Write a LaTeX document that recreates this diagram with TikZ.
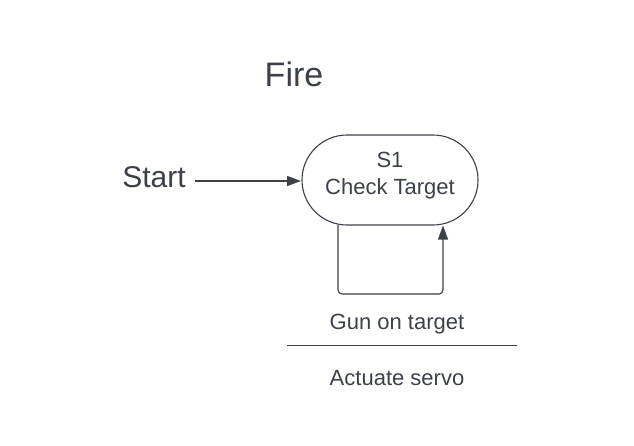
\documentclass[tikz,border=0pt]{standalone}
\usepackage{fontspec}
\setmainfont{Liberation Sans}
\usetikzlibrary{arrows.meta}
\definecolor{ink}{RGB}{59,64,73}
\begin{document}
\begin{tikzpicture}[x=1pt,y=-1pt,
  every node/.style={text=ink, inner sep=0pt},
  conn/.style={draw=ink, line width=1.1pt, -{Triangle[length=14pt,width=10pt]}},
  statebox/.style={draw=ink, line width=1.1pt, minimum width=176pt, minimum height=90pt, rounded corners=45pt, align=center}]
\useasboundingbox (0,0) rectangle (634,445);
\node (title) at (294,74) {\fontsize{34}{40}\selectfont Fire};
\node (start) at (154,177) {\fontsize{30}{36}\selectfont Start};
\node[statebox] (s1) at (390,180) {};
\node (s1a) at (390,160) {\fontsize{22}{26}\selectfont S1};
\node (s1b) at (390,189) {\fontsize{22}{26}\selectfont Check Target};
\coordinate (sa) at (195,181);
\coordinate (se) at (301,181);
\draw[conn] (sa) -- (se);
\coordinate (lb) at (338,225);
\coordinate (le) at (443,225.5);
\draw[conn, rounded corners=4pt] (lb) -- (338,294) -- (443,294) -- (le);
\node (cond) at (397,324) {\fontsize{22}{26}\selectfont Gun on target};
\coordinate (ll) at (287,345);
\coordinate (lr) at (517,345);
\draw[draw=ink, line width=1pt] (ll) -- (lr);
\node (act) at (397,378) {\fontsize{22}{26}\selectfont Actuate servo};
\end{tikzpicture}
\end{document}
